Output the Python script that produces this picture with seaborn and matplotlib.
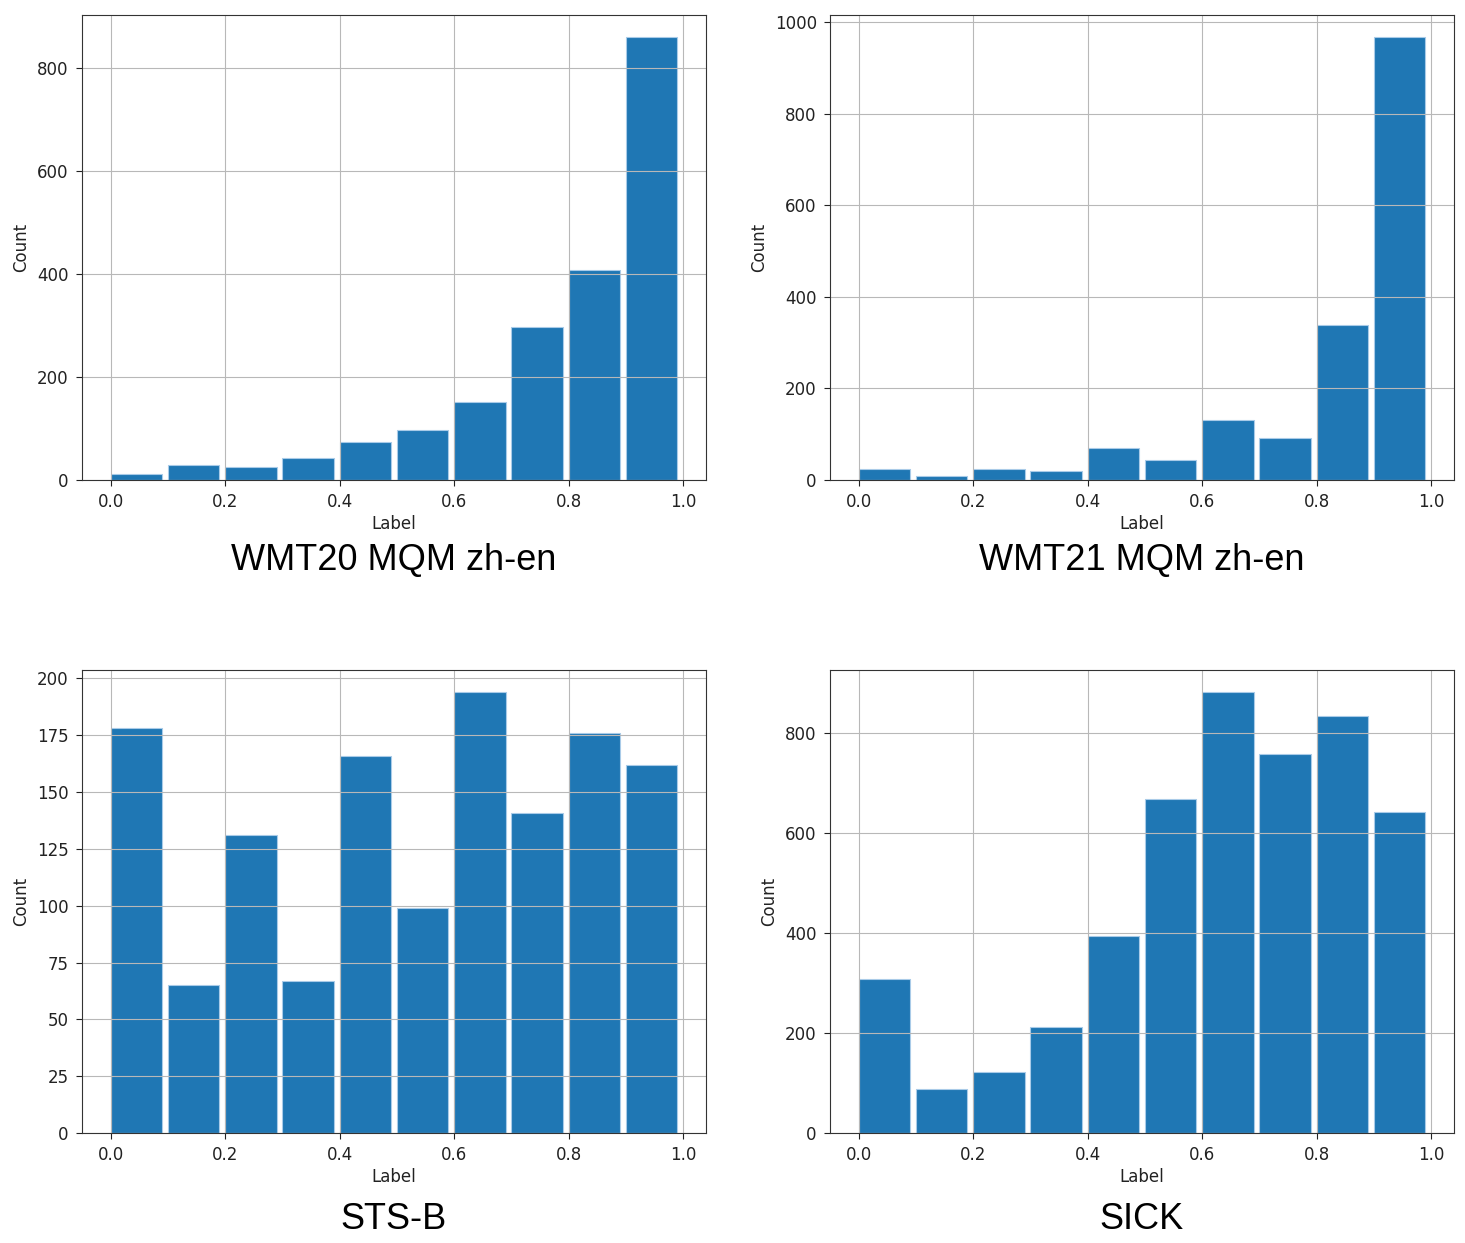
import numpy as np
import pandas as pd
import matplotlib
matplotlib.use("Agg")
import matplotlib.pyplot as plt
import seaborn as sns

# label bins (left edge of each bin) and counts
label_bins = [0.0, 0.1, 0.2, 0.3, 0.4, 0.5, 0.6, 0.7, 0.8, 0.9]
wmt20_counts = [12, 30, 25, 42, 74, 98, 152, 298, 408, 860]
wmt21_counts = [23, 9, 23, 20, 69, 44, 132, 91, 339, 967]
stsb_counts = [178, 65, 131, 67, 166, 99, 194, 141, 176, 162]
sick_counts = [309, 88, 123, 212, 395, 669, 883, 758, 836, 643]

titles = ["WMT20 MQM zh-en", "WMT21 MQM zh-en", "STS-B", "SICK"]
all_counts = [wmt20_counts, wmt21_counts, stsb_counts, sick_counts]

fig = plt.figure(figsize=(14.65, 12.43), dpi=100)
W, H = 1465, 1243
# axes boxes in pixels: left, top, right, bottom, caption baseline
boxes = [(82, 15, 706, 480, 570), (830, 15, 1454, 480, 570),
         (82, 670, 706, 1133, 1229), (830, 670, 1454, 1133, 1229)]

for title, counts, (l, t, r, b, cap) in zip(titles, all_counts, boxes):
    ax = fig.add_axes([l / W, 1 - b / H, (r - l) / W, (b - t) / H])
    df = pd.DataFrame({"Label": label_bins, "Count": counts})
    sns.histplot(data=df, x="Label", weights="Count", bins=10,
                 binrange=(-0.005, 0.995), shrink=0.9, ax=ax,
                 color="#1f77b4", alpha=1, edgecolor="#a9cbe8", linewidth=0.8)
    ax.set_xlim(-0.05, 1.04)
    ax.set_xticks([0.0, 0.2, 0.4, 0.6, 0.8, 1.0])
    ax.grid(True, color="#b8b8b8")
    ax.tick_params(labelsize=12, pad=5, colors="#222222", length=4.5)
    for s in ax.spines.values():
        s.set_color("#333333")
    ax.set_xlabel("Label", fontsize=12, color="#222222", labelpad=3)
    ax.set_ylabel("Count", fontsize=12, color="#222222", labelpad=5)
    # caption under each panel
    fig.text((l + r) / 2 / W, 1 - cap / H, title, ha="center", va="baseline",
             fontsize=26, family=["Liberation Sans", "DejaVu Sans"])

fig.savefig("out.png", dpi=100)
